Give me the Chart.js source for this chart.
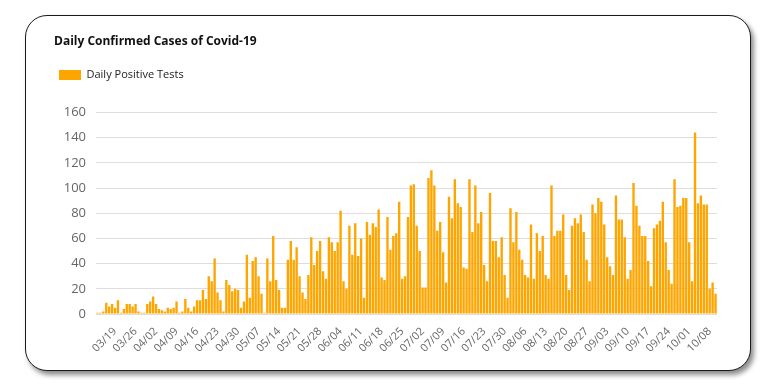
<!DOCTYPE html>
<html>
<head>
<meta charset="utf-8">
<script src="https://cdn.jsdelivr.net/npm/chart.js@4"></script>
<style>
  html, body { margin: 0; padding: 0; background: #fff; }
  body { width: 767px; height: 389px; position: relative; overflow: hidden; }
  .card {
    position: absolute; left: 25px; top: 15px; width: 724px; height: 354px;
    border: 1.5px solid #1a1a1a; border-radius: 22px; background: #fff;
    box-shadow: 3px 4px 5px rgba(0,0,0,0.45);
  }
  .wrap { position: absolute; left: 44px; top: 28px; width: 690px; height: 330px; }
</style>
</head>
<body>
<div class="card"></div>
<div class="wrap"><canvas id="cases"></canvas></div>
<script>
// one bar per day, 03/13 .. 10/10
const startDay = new Date(2020, 2, 13);
const dayCount = 212;
const days = [];
for (let i = 0; i < dayCount; i++) {
  const d = new Date(startDay);
  d.setDate(d.getDate() + i);
  days.push(String(d.getMonth() + 1).padStart(2, '0') + '/' + String(d.getDate()).padStart(2, '0'));
}

const positiveTests = [
  1, 1, 2, 9, 6, 8, 5, 11, 1, 4, 8, 8, 6, 8, 2, 1, 1, 8, 10, 14,
  8, 4, 3, 2, 5, 4, 5, 10, 1, 2, 12, 5, 2, 6, 11, 11, 19, 12, 30, 26,
  44, 17, 11, 2, 27, 23, 18, 20, 19, 5, 10, 47, 13, 42, 45, 30, 16, 1, 44, 26,
  62, 27, 19, 5, 5, 43, 58, 43, 53, 30, 17, 12, 31, 61, 39, 50, 58, 34, 28, 61,
  57, 50, 57, 82, 26, 20, 70, 47, 72, 46, 60, 13, 73, 63, 72, 69, 83, 29, 27, 77,
  51, 62, 64, 89, 28, 30, 77, 102, 103, 70, 50, 21, 21, 108, 114, 102, 66, 73, 49, 25,
  93, 76, 107, 88, 85, 37, 36, 107, 65, 102, 72, 81, 39, 26, 96, 58, 58, 45, 61, 31,
  13, 84, 57, 81, 51, 43, 31, 29, 71, 28, 64, 50, 62, 31, 28, 102, 62, 66, 66, 79,
  31, 19, 70, 76, 72, 79, 65, 43, 26, 87, 80, 92, 89, 71, 45, 38, 31, 94, 75, 75,
  61, 28, 35, 104, 86, 70, 62, 62, 42, 22, 68, 71, 74, 89, 57, 35, 24, 107, 85, 86,
  92, 92, 57, 26, 144, 88, 94, 87, 87, 20, 25, 16
];

const yTicks = [0, 20, 40, 60, 80, 100, 120, 140, 160];
const firstLabel = 6; // 03/19, then every 7 days

// extra room under the legend
const legendGap = {
  id: 'legendGap',
  beforeInit(chart) {
    const fit = chart.legend.fit;
    chart.legend.fit = function () {
      fit.bind(chart.legend)();
      this.height += 22;
    };
  }
};

new Chart(document.getElementById('cases'), {
  type: 'bar',
  data: {
    labels: days,
    datasets: [{
      label: 'Daily Positive Tests',
      data: positiveTests,
      backgroundColor: '#FFA500',
      borderWidth: 0,
      barPercentage: 0.88,
      categoryPercentage: 0.92
    }]
  },
  options: {
    responsive: true,
    maintainAspectRatio: false,
    animation: false,
    layout: { padding: { left: 10, right: 17, top: 0, bottom: 0 } },
    plugins: {
      title: {
        display: true,
        text: 'Daily Confirmed Cases of Covid-19',
        align: 'start',
        color: '#111',
        font: { family: 'Open Sans', size: 12, weight: 'bold' },
        padding: { top: 6, bottom: 16 }
      },
      legend: {
        align: 'start',
        labels: {
          boxWidth: 22,
          boxHeight: 10,
          padding: 5,
          color: '#222',
          font: { family: 'Open Sans', size: 11 }
        }
      },
      tooltip: { enabled: false }
    },
    scales: {
      x: {
        grid: { display: false },
        border: { display: false },
        ticks: {
          autoSkip: false,
          maxRotation: 45,
          minRotation: 45,
          color: '#666',
          font: { family: 'Open Sans', size: 11 },
          callback: function (val, idx) {
            return (idx - firstLabel) % 7 === 0 && idx >= firstLabel ? days[idx] : null;
          }
        }
      },
      y: {
        min: yTicks[0],
        max: yTicks[yTicks.length - 1],
        afterFit: function (scale) { scale.width = 42; },
        grid: { color: '#ddd', drawTicks: false },
        border: { display: false },
        ticks: {
          stepSize: 20,
          padding: 10,
          color: '#666',
          font: { family: 'Open Sans', size: 13 }
        }
      }
    }
  },
  plugins: [legendGap]
});
</script>
</body>
</html>
